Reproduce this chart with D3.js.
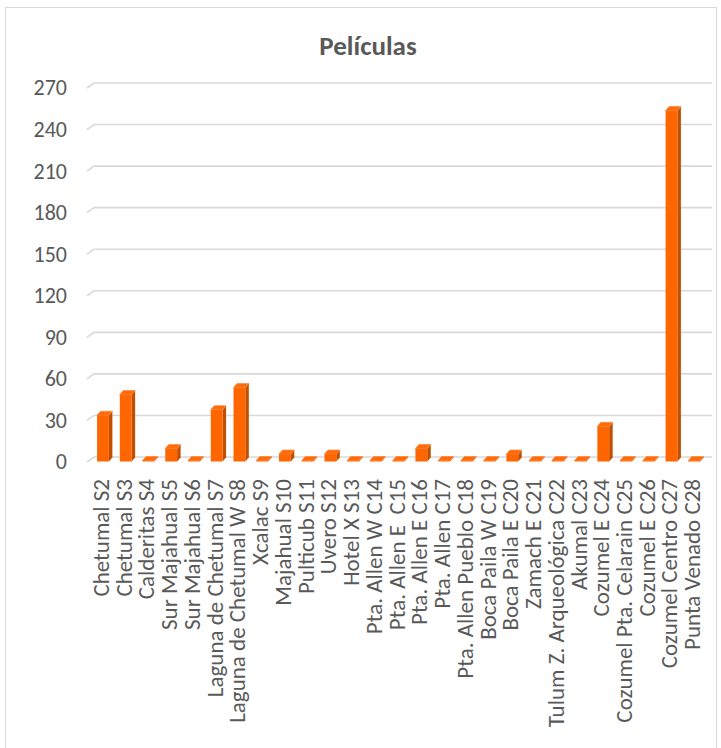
<!DOCTYPE html>
<html>
<head>
<meta charset="utf-8">
<script src="https://cdn.jsdelivr.net/npm/d3@7"></script>
<style>
  body { margin: 0; background: #fff; }
  text { font-family: Carlito, Calibri, "Liberation Sans Narrow", Roboto, "Noto Sans", sans-serif; fill: #595959; white-space: pre; }
</style>
</head>
<body>
<div id="chart"></div>
<script>
const categories = [
  "Chetumal S2", "Chetumal S3", "Calderitas S4", "Sur Majahual S5", "Sur Majahual S6",
  "Laguna de Chetumal S7", "Laguna de Chetumal W S8", "Xcalac S9", "Majahual S10",
  "Pulticub S11", "Uvero S12", "Hotel X S13", "Pta. Allen W C14", "Pta. Allen E  C15",
  "Pta. Allen E C16", "Pta. Allen C17", "Pta. Allen Pueblo C18", "Boca Paila W C19",
  "Boca Paila E C20", "Zamach E C21", "Tulum Z. Arqueológica C22", "Akumal C23",
  "Cozumel E C24", "Cozumel Pta. Celarain C25", "Cozumel E C26", "Cozumel Centro C27",
  "Punta Venado C28"
];
const values = [33, 48, 0, 9, 0, 37, 53, 0, 5, 0, 5, 0, 0, 0, 9, 0, 0, 0, 5, 0, 0, 0, 25, 0, 0, 253, 0];
const yTicks = [0, 30, 60, 90, 120, 150, 180, 210, 240, 270];
const title = "Películas";

const W = 721, H = 748;
const depthX = 7, depthY = 5;   // profundidad 3D de la pared
const barDx = 3.5, barDy = 4;   // profundidad de cada barra

const svg = d3.select("#chart").append("svg")
    .attr("width", W)
    .attr("height", H);

// marco del gráfico
svg.append("rect")
    .attr("x", 5.5).attr("y", 7.5)
    .attr("width", 711).attr("height", 760)
    .attr("fill", "none")
    .attr("stroke", "#d9d9d9");

svg.append("text")
    .attr("x", 368).attr("y", 55)
    .attr("text-anchor", "middle")
    .style("font-size", "27px")
    .style("font-weight", "bold")
    .text(title);

const x = d3.scaleBand()
    .domain(categories)
    .range([91.6, 705.6])
    .paddingInner(0.48)
    .paddingOuter(0.24);

const y = d3.scaleLinear()
    .domain([0, 270])
    .range([461, 87]);

// cuadrícula con esquina 3D
const gx0 = 87, gx1 = 712;
svg.append("g").selectAll("path.grid")
    .data(yTicks)
    .enter().append("path")
    .attr("class", "grid")
    .attr("fill", "none")
    .attr("stroke", "#d9d9d9")
    .attr("stroke-width", 1.6)
    .attr("d", d => `M ${gx0} ${y(d) + 1} L ${gx0 + depthX} ${y(d) + 1 - depthY} L ${gx1} ${y(d) + 1 - depthY}`);

// eje Y
const yAxis = svg.append("g")
    .attr("transform", "translate(67,0)")
    .call(d3.axisLeft(y).tickValues(yTicks).tickSize(0).tickPadding(0));
yAxis.select(".domain").remove();
yAxis.attr("font-family", null);
yAxis.selectAll("text")
    .style("font-size", "22px")
    .attr("dy", "0.36em")
    .style("fill", "#595959");

// barras 3D
const bars = svg.append("g").selectAll("g.bar")
    .data(values.map((v, i) => ({ cat: categories[i], v })))
    .enter().append("g")
    .attr("class", "bar");

const bw = x.bandwidth();
const base = y(0) + 0.5;

// cara lateral
bars.append("path")
    .attr("fill", "#c24e00")
    .attr("d", d => {
        const x0 = x(d.cat) + bw, yt = Math.min(y(d.v), base - 1);
        return `M ${x0} ${base} L ${x0 + barDx} ${base - barDy} L ${x0 + barDx} ${yt - barDy} L ${x0} ${yt} Z`;
    });

// cara superior
bars.append("path")
    .attr("fill", "#ff6a0a")
    .attr("stroke", "#ff8a3d")
    .attr("stroke-width", 0.8)
    .attr("d", d => {
        const x0 = x(d.cat), yt = Math.min(y(d.v), base - 1);
        return `M ${x0} ${yt} L ${x0 + barDx} ${yt - barDy} L ${x0 + bw + barDx} ${yt - barDy} L ${x0 + bw} ${yt} Z`;
    });

// cara frontal
bars.append("rect")
    .attr("fill", "#ff6600")
    .attr("x", d => x(d.cat))
    .attr("y", d => Math.min(y(d.v), base - 1))
    .attr("width", bw)
    .attr("height", d => Math.max(base - y(d.v), 1));

// etiquetas del eje X
svg.append("g").selectAll("text.xlab")
    .data(categories)
    .enter().append("text")
    .attr("class", "xlab")
    .attr("text-anchor", "end")
    .attr("transform", d => `translate(${x(d) + bw / 2 + 6},479) rotate(-90)`)
    .style("font-size", "23px")
    .text(d => d);
</script>
</body>
</html>
